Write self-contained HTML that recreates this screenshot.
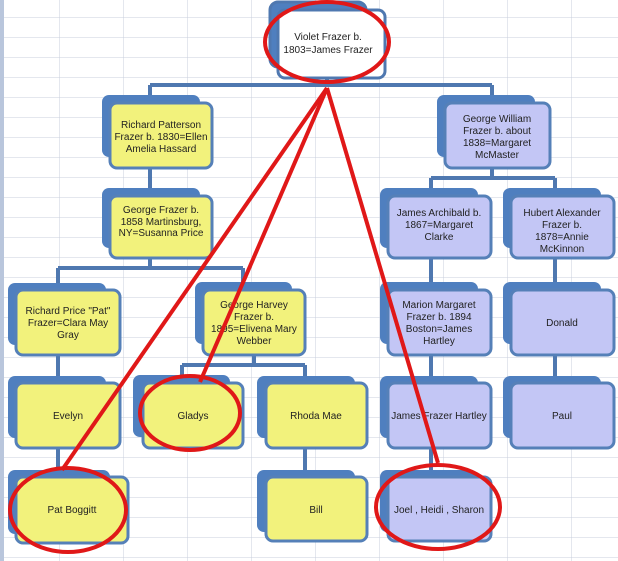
<!DOCTYPE html>
<html><head><meta charset="utf-8"><style>
html,body{margin:0;padding:0;background:#fff;}
svg{display:block;font-family:"Liberation Sans",sans-serif;}
text{font-size:10px;fill:#222;text-anchor:middle;}
</style></head><body>
<svg width="618" height="561" viewBox="0 0 618 561" xmlns="http://www.w3.org/2000/svg">
<defs>
<pattern id="g" width="64" height="20" patternUnits="userSpaceOnUse" x="-4" y="-2">
<path d="M64 0V20M0 20H64" stroke="#c9cfdc" stroke-width="1" fill="none"/>
</pattern>
</defs>
<rect width="618" height="561" fill="#fff"/>
<rect width="618" height="561" fill="url(#g)"/>
<rect x="0" y="0" width="4" height="561" fill="#b9c6dc"/>
<g stroke="#4f78b0" stroke-width="4" fill="none">
<path d="M327 78V85M150 85H492M150 85V95M492 85V95"/>
<path d="M150 168V188M150 258V268M58 268H243M58 268V283M243 268V283"/>
<path d="M492 168V178M431 178H555M431 178V188M555 178V188"/>
<path d="M431 258V283M555 258V283M431 355V376M555 355V376M431 448V470"/>
<path d="M58 355V376M58 448V470M254 355V365M182 365H305M182 365V376M305 365V376M305 448V470"/>
</g>
<g id="nodes">
<!-- helper: back rect + front rect -->
</g>
<g stroke="#4f78b0" stroke-width="3">
<!-- root -->
<rect x="270" y="2" width="96" height="65" rx="8" fill="#4f7fbf"/>
<rect x="278" y="10" width="107" height="68" rx="7" fill="#fff"/>
</g>
<g stroke="#5580b8" stroke-width="3">
<g fill="#4f7fbf" stroke="none">
<rect x="102" y="95" width="98" height="62" rx="7"/>
<rect x="102" y="188" width="98" height="60" rx="7"/>
<rect x="8" y="283" width="98" height="62" rx="7"/>
<rect x="195" y="282" width="97" height="62" rx="7"/>
<rect x="8" y="376" width="98" height="62" rx="7"/>
<rect x="133" y="375" width="97" height="62" rx="7"/>
<rect x="257" y="376" width="98" height="62" rx="7"/>
<rect x="8" y="470" width="102" height="64" rx="7"/>
<rect x="257" y="470" width="98" height="62" rx="7"/>
<rect x="437" y="95" width="98" height="62" rx="7"/>
<rect x="380" y="188" width="98" height="60" rx="7"/>
<rect x="503" y="188" width="98" height="60" rx="7"/>
<rect x="380" y="282" width="98" height="62" rx="7"/>
<rect x="503" y="282" width="98" height="62" rx="7"/>
<rect x="380" y="376" width="98" height="62" rx="7"/>
<rect x="503" y="376" width="98" height="62" rx="7"/>
<rect x="380" y="470" width="98" height="62" rx="7"/>
</g>
<g fill="#f2f27c">
<rect x="110" y="103" width="102" height="65" rx="7"/>
<rect x="110" y="196" width="102" height="62" rx="7"/>
<rect x="16" y="290" width="104" height="65" rx="7"/>
<rect x="203" y="290" width="102" height="65" rx="7"/>
<rect x="16" y="383" width="104" height="65" rx="7"/>
<rect x="143" y="383" width="100" height="65" rx="7"/>
<rect x="266" y="383" width="101" height="65" rx="7"/>
<rect x="16" y="477" width="112" height="66" rx="7"/>
<rect x="266" y="477" width="101" height="64" rx="7"/>
</g>
<g fill="#c3c6f5">
<rect x="445" y="103" width="105" height="65" rx="7"/>
<rect x="388" y="196" width="103" height="62" rx="7"/>
<rect x="511" y="196" width="103" height="62" rx="7"/>
<rect x="388" y="290" width="103" height="65" rx="7"/>
<rect x="511" y="290" width="103" height="65" rx="7"/>
<rect x="388" y="383" width="103" height="65" rx="7"/>
<rect x="511" y="383" width="103" height="65" rx="7"/>
<rect x="388" y="477" width="103" height="64" rx="7"/>
</g>
</g>
<g>
<text x="328" y="40">Violet Frazer b.</text><text x="328" y="53">1803=James Frazer</text>
<text x="161" y="128">Richard Patterson</text><text x="161" y="140">Frazer b. 1830=Ellen</text><text x="161" y="152">Amelia Hassard</text>
<text x="161" y="213">George Frazer b.</text><text x="161" y="235" dy="-10">1858 Martinsburg,</text><text x="161" y="236">NY=Susanna Price</text>
<text x="68" y="314">Richard Price "Pat"</text><text x="68" y="326">Frazer=Clara May</text><text x="68" y="338">Gray</text>
<text x="254" y="308">George Harvey</text><text x="254" y="320">Frazer b.</text><text x="254" y="332">1895=Elivena Mary</text><text x="254" y="344">Webber</text>
<text x="68" y="419">Evelyn</text>
<text x="193" y="419">Gladys</text>
<text x="316" y="419">Rhoda Mae</text>
<text x="72" y="513">Pat Boggitt</text>
<text x="316" y="513">Bill</text>
<text x="497" y="122">George William</text><text x="497" y="134">Frazer b. about</text><text x="497" y="146">1838=Margaret</text><text x="497" y="158">McMaster</text>
<text x="439" y="216">James Archibald b.</text><text x="439" y="228">1867=Margaret</text><text x="439" y="240">Clarke</text>
<text x="562" y="216">Hubert Alexander</text><text x="562" y="228">Frazer b.</text><text x="562" y="240">1878=Annie</text><text x="562" y="252">McKinnon</text>
<text x="439" y="308">Marion Margaret</text><text x="439" y="320">Frazer b. 1894</text><text x="439" y="332">Boston=James</text><text x="439" y="344">Hartley</text>
<text x="562" y="326">Donald</text>
<text x="439" y="419">James Frazer Hartley</text>
<text x="562" y="419">Paul</text>
<text x="439" y="513">Joel , Heidi , Sharon</text>
</g>
<g stroke="#e01818" stroke-width="4" fill="none">
<line x1="327" y1="88" x2="62" y2="470"/>
<line x1="327" y1="88" x2="200" y2="382"/>
<line x1="327" y1="88" x2="438" y2="463"/>
<ellipse cx="327" cy="42" rx="62" ry="40"/>
<ellipse cx="190" cy="413" rx="50" ry="37"/>
<ellipse cx="68" cy="510" rx="58" ry="42"/>
<ellipse cx="438" cy="507" rx="62" ry="42"/>
</g>
</svg>
</body></html>
